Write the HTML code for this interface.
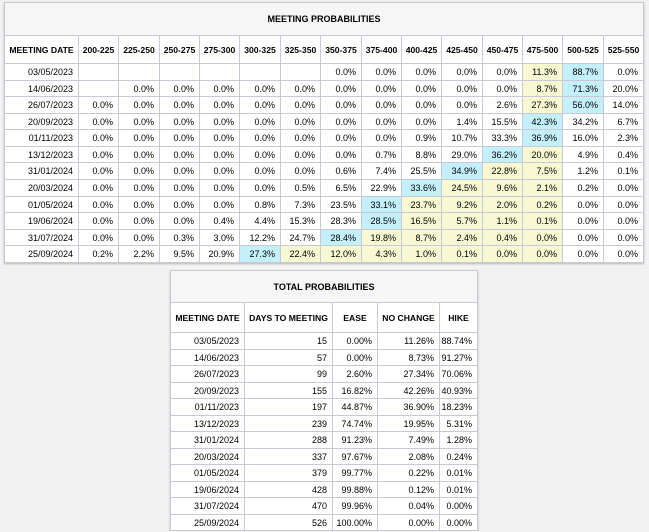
<!DOCTYPE html>
<html><head><meta charset="utf-8"><style>
body{margin:0;width:649px;height:529px;background:#f2f2f2;overflow:hidden;font-family:"Liberation Sans",Arial,sans-serif;position:relative}
.c{position:absolute;box-sizing:border-box;border:1px solid #c9c9d6;font-size:9px;color:#000;display:flex;align-items:center;justify-content:flex-end;padding-right:5px;background:#fff;white-space:nowrap;margin-left:-1px;margin-top:-1px}
.h{font-weight:bold;justify-content:center;padding:0;font-size:8.6px}
.t{font-weight:bold;justify-content:center;padding:0;background:#f6f6f6;font-size:9px}
.box{position:absolute;box-shadow:0 1px 2px rgba(0,0,0,.25)}
</style></head><body>
<div class="box" style="left:4px;top:2px;width:640px;height:261px"></div>
<div class="box" style="left:170px;top:270px;width:308px;height:262px"></div>
<div id="root"></div>
<script>
const ranges=["200-225","225-250","250-275","275-300","300-325","325-350","350-375","375-400","400-425","425-450","450-475","475-500","500-525","525-550"];
const dates=["03/05/2023","14/06/2023","26/07/2023","20/09/2023","01/11/2023","13/12/2023","31/01/2024","20/03/2024","01/05/2024","19/06/2024","31/07/2024","25/09/2024"];
const probs=[
[null,null,null,null,null,null,0.0,0.0,0.0,0.0,0.0,11.3,88.7,0.0],
[null,0.0,0.0,0.0,0.0,0.0,0.0,0.0,0.0,0.0,0.0,8.7,71.3,20.0],
[0.0,0.0,0.0,0.0,0.0,0.0,0.0,0.0,0.0,0.0,2.6,27.3,56.0,14.0],
[0.0,0.0,0.0,0.0,0.0,0.0,0.0,0.0,0.0,1.4,15.5,42.3,34.2,6.7],
[0.0,0.0,0.0,0.0,0.0,0.0,0.0,0.0,0.9,10.7,33.3,36.9,16.0,2.3],
[0.0,0.0,0.0,0.0,0.0,0.0,0.0,0.7,8.8,29.0,36.2,20.0,4.9,0.4],
[0.0,0.0,0.0,0.0,0.0,0.0,0.6,7.4,25.5,34.9,22.8,7.5,1.2,0.1],
[0.0,0.0,0.0,0.0,0.0,0.5,6.5,22.9,33.6,24.5,9.6,2.1,0.2,0.0],
[0.0,0.0,0.0,0.0,0.8,7.3,23.5,33.1,23.7,9.2,2.0,0.2,0.0,0.0],
[0.0,0.0,0.0,0.4,4.4,15.3,28.3,28.5,16.5,5.7,1.1,0.1,0.0,0.0],
[0.0,0.0,0.3,3.0,12.2,24.7,28.4,19.8,8.7,2.4,0.4,0.0,0.0,0.0],
[0.2,2.2,9.5,20.9,27.3,22.4,12.0,4.3,1.0,0.1,0.0,0.0,0.0,0.0]];
const days=[15,57,99,155,197,239,288,337,379,428,470,526];
const ease=["0.00","0.00","2.60","16.82","44.87","74.74","91.23","97.67","99.77","99.88","99.96","100.00"];
const noChange=["11.26","8.73","27.34","42.26","36.90","19.95","7.49","2.08","0.22","0.12","0.04","0.00"];
const hike=["88.74","91.27","70.06","40.93","18.23","5.31","1.28","0.24","0.01","0.01","0.00","0.00"];
const current=11;
const root=document.getElementById('root');
function cell(x,y,w,h,txt,cls,bg){
  const d=document.createElement('div');
  d.className='c '+(cls||'');
  d.style.left=(x+1)+'px';d.style.top=(y+1)+'px';d.style.width=(w+1)+'px';d.style.height=(h+1)+'px';
  if(bg)d.style.background=bg;
  d.textContent=txt;
  root.appendChild(d);return d;
}
const X0=4,firstW=74,colW=40.36;
const ty=2,tH=33,hH=28,rH=16.58;
let e=cell(X0,ty,firstW+colW*14,tH,'MEETING PROBABILITIES','t');


e=cell(X0,ty+tH,firstW,hH,'MEETING DATE','h');


ranges.forEach((r,i)=>{
  const c=cell(Math.round(X0+firstW+i*colW),ty+tH,Math.round(X0+firstW+(i+1)*colW)-Math.round(X0+firstW+i*colW),hH,r,'h');
  
  
});
dates.forEach((d,ri)=>{
  const y=Math.round(ty+tH+hH+ri*rH),y2=Math.round(ty+tH+hH+(ri+1)*rH);
  const c=cell(X0,y,firstW,y2-y,d);
  
  
  const row=probs[ri];let mx=0;
  row.forEach((v,i)=>{if(v!==null&&v>row[mx])mx=i;});
  row.forEach((v,i)=>{
    let bg=null;
    if(i===mx)bg='#c3f0fb';
    else if((i>mx&&i<=current)||(i<mx&&i>=current))bg='#f8f8d3';
    const x1=Math.round(X0+firstW+i*colW),x2=Math.round(X0+firstW+(i+1)*colW);
    const p=cell(x1,y,x2-x1,y2-y,v===null?'':v.toFixed(1)+'%','',bg);
    
    
  });
});
const bx=[170,244,332,377,439,477];
const heads=['MEETING DATE','DAYS TO MEETING','EASE','NO CHANGE','HIKE'];
const by=270,bt=32,bh=30,br=16.5;
e=cell(170,by,307,bt,'TOTAL PROBABILITIES','t');


heads.forEach((h,i)=>{
  const c=cell(bx[i],by+bt,bx[i+1]-bx[i],bh,h,'h');
  
  
});
dates.forEach((d,ri)=>{
  const y=Math.round(by+bt+bh+ri*br),y2=Math.round(by+bt+bh+(ri+1)*br);
  const vals=[d,String(days[ri]),ease[ri]+'%',noChange[ri]+'%',hike[ri]+'%'];
  vals.forEach((v,i)=>{
    const c=cell(bx[i],y,bx[i+1]-bx[i],y2-y,v);
    
    
  });
});
</script>
</body></html>
